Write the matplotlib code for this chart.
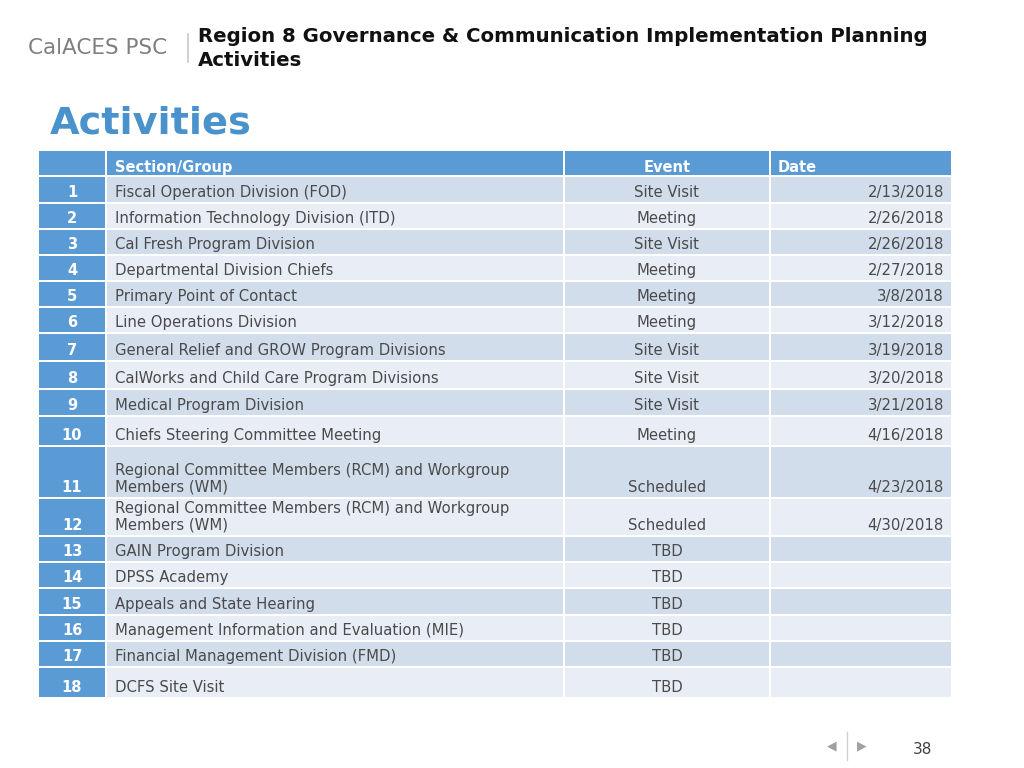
import matplotlib

matplotlib.use("Agg")
import matplotlib.pyplot as plt
from matplotlib.patches import Rectangle

# table content
row_numbers = [str(i) for i in range(1, 19)]
sections = [
    "Fiscal Operation Division (FOD)",
    "Information Technology Division (ITD)",
    "Cal Fresh Program Division",
    "Departmental Division Chiefs",
    "Primary Point of Contact",
    "Line Operations Division",
    "General Relief and GROW Program Divisions",
    "CalWorks and Child Care Program Divisions",
    "Medical Program Division",
    "Chiefs Steering Committee Meeting",
    "Regional Committee Members (RCM) and Workgroup\nMembers (WM)",
    "Regional Committee Members (RCM) and Workgroup\nMembers (WM)",
    "GAIN Program Division",
    "DPSS Academy",
    "Appeals and State Hearing",
    "Management Information and Evaluation (MIE)",
    "Financial Management Division (FMD)",
    "DCFS Site Visit",
]
events = [
    "Site Visit", "Meeting", "Site Visit", "Meeting", "Meeting", "Meeting",
    "Site Visit", "Site Visit", "Site Visit", "Meeting", "Scheduled", "Scheduled",
    "TBD", "TBD", "TBD", "TBD", "TBD", "TBD",
]
dates = [
    "2/13/2018", "2/26/2018", "2/26/2018", "2/27/2018", "3/8/2018", "3/12/2018",
    "3/19/2018", "3/20/2018", "3/21/2018", "4/16/2018", "4/23/2018", "4/30/2018",
    "", "", "", "", "", "",
]
headers = ["Section/Group", "Event", "Date"]

# layout (pixels)
row_edges = [150, 176, 203, 229, 255, 281, 307, 333, 361, 389, 416, 446,
             498, 536, 562, 588, 615, 641, 667, 698]
col_edges = [38, 106, 564, 770, 952]

BLUE = "#5b9bd5"
ODD = "#d2ddec"
EVEN = "#e9eef6"
TXT = "#4a4a4a"
FONT = "DejaVu Sans"

fig = plt.figure(figsize=(10.24, 7.68), dpi=100)
ax = fig.add_axes([0, 0, 1, 1])
ax.set_xlim(0, 1024)
ax.set_ylim(768, 0)
ax.axis("off")

# slide header
ax.text(28, 48, "CalACES PSC", fontsize=15.5, color="#7f7f7f", family=FONT,
        va="center", ha="left")
ax.plot([188, 188], [34, 62], color="#c8c8c8", lw=1.2)
ax.text(198, 37, "Region 8 Governance & Communication Implementation Planning",
        fontsize=14.2, fontweight="bold", color="#111111", family=FONT, va="center")
ax.text(198, 61, "Activities", fontsize=14.2, fontweight="bold", color="#111111",
        family=FONT, va="center")
ax.text(50, 124, "Activities", fontsize=27.5, fontweight="bold", color="#4a92cc",
        family=FONT, va="center")

gap = 1.0
# header row
y0, y1 = row_edges[0], row_edges[1]
for c in range(4):
    ax.add_patch(Rectangle((col_edges[c] + gap, y0 + gap),
                           col_edges[c + 1] - col_edges[c] - 2 * gap, y1 - y0 - 2 * gap,
                           facecolor=BLUE, edgecolor="none"))
hy = y1 - 1
ax.text(115, hy, headers[0], fontsize=10.5, fontweight="bold", color="white",
        family=FONT, va="bottom", ha="left")
ax.text(667, hy, headers[1], fontsize=10.5, fontweight="bold", color="white",
        family=FONT, va="bottom", ha="center")
ax.text(778, hy, headers[2], fontsize=10.5, fontweight="bold", color="white",
        family=FONT, va="bottom", ha="left")

for i in range(len(row_numbers)):
    y0, y1 = row_edges[i + 1], row_edges[i + 2]
    fill = ODD if i % 2 == 0 else EVEN
    for c in range(4):
        ax.add_patch(Rectangle((col_edges[c] + gap, y0 + gap),
                               col_edges[c + 1] - col_edges[c] - 2 * gap,
                               y1 - y0 - 2 * gap,
                               facecolor=BLUE if c == 0 else fill, edgecolor="none"))
    ty = y1 - 3
    ax.text(72, ty, row_numbers[i], fontsize=10.5, fontweight="bold", color="white",
            family=FONT, va="bottom", ha="center")
    ax.text(115, ty, sections[i], fontsize=10.7, color=TXT, family=FONT,
            va="bottom", ha="left", linespacing=1.15)
    ax.text(667, ty, events[i], fontsize=10.7, color=TXT, family=FONT,
            va="bottom", ha="center")
    if dates[i]:
        ax.text(944, ty, dates[i], fontsize=10.7, color=TXT, family=FONT,
                va="bottom", ha="right")

# footer navigation
ax.text(832, 746, "\u25c0", fontsize=9, color="#a0a0a0", ha="center", va="center",
        family=FONT)
ax.plot([847, 847], [732, 760], color="#d0d0d0", lw=1)
ax.text(862, 746, "\u25b6", fontsize=9, color="#a0a0a0", ha="center", va="center",
        family=FONT)
ax.text(922, 750, "38", fontsize=11, color="#404040", ha="center", va="center",
        family=FONT)

fig.savefig("out.png", dpi=100)
